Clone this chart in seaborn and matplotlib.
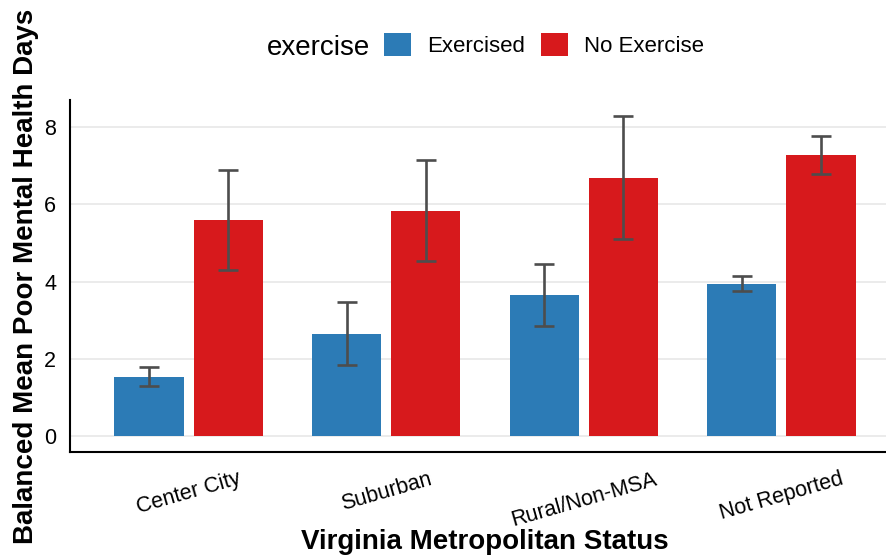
import matplotlib
matplotlib.use("Agg")
import matplotlib.pyplot as plt
from matplotlib.patches import Patch
import pandas as pd
import seaborn as sns

# Balanced (weighted) mean poor mental health days with 95% intervals
metro_status = ["Center City", "Suburban", "Rural/Non-MSA", "Not Reported"]
exercise_levels = ["Exercised", "No Exercise"]

exercised_mean = [1.54, 2.64, 3.66, 3.94]
exercised_lower = [1.30, 1.84, 2.85, 3.75]
exercised_upper = [1.80, 3.46, 4.46, 4.15]

no_exercise_mean = [5.59, 5.84, 6.69, 7.27]
no_exercise_lower = [4.29, 4.54, 5.11, 6.78]
no_exercise_upper = [6.90, 7.16, 8.29, 7.78]

palette = {"Exercised": "#2C7BB6", "No Exercise": "#D7191C"}

df = pd.DataFrame({
    "metro": metro_status * 2,
    "exercise": ["Exercised"] * 4 + ["No Exercise"] * 4,
    "mean": exercised_mean + no_exercise_mean,
    "lower": exercised_lower + no_exercise_lower,
    "upper": exercised_upper + no_exercise_upper,
})

sns.set_style("white")
plt.rcParams["font.family"] = ["Liberation Sans", "DejaVu Sans"]
plt.rcParams["text.color"] = "black"
plt.rcParams["axes.labelcolor"] = "black"
plt.rcParams["xtick.color"] = "black"
plt.rcParams["ytick.color"] = "black"

W, H = 887, 559
fig = plt.figure(figsize=(W / 100, H / 100), dpi=100)
ax = fig.add_axes([70 / W, (H - 452) / H, (900 - 70) / W, (452 - 100) / H])

sns.barplot(data=df, x="metro", y="mean", hue="exercise",
            order=metro_status, hue_order=exercise_levels,
            palette=palette, errorbar=None, width=0.8, gap=0.125,
            linewidth=0, saturation=1, legend=False, ax=ax, zorder=2)

# interval whiskers at each bar centre
for container, level in zip(ax.containers, exercise_levels):
    sub = df[df["exercise"] == level].set_index("metro").loc[metro_status]
    for bar, (_, row) in zip(container, sub.iterrows()):
        xc = bar.get_x() + bar.get_width() / 2
        ax.errorbar(xc, row["mean"],
                    yerr=[[row["mean"] - row["lower"]], [row["upper"] - row["mean"]]],
                    fmt="none", ecolor="#4D4D4D", elinewidth=1.9,
                    capsize=7.2, capthick=1.9, zorder=3)

ax.set_xlim(-0.6, 3.6)
ymax = max(exercised_upper + no_exercise_upper)
pad = 0.05 * ymax
ax.set_ylim(-pad, ymax + pad)
ax.set_yticks([0, 2, 4, 6, 8])

ax.yaxis.grid(True, color="#EBEBEB", linewidth=1.4)
ax.xaxis.grid(False)
ax.set_axisbelow(True)

for side in ["top", "right"]:
    ax.spines[side].set_visible(False)
for side in ["left", "bottom"]:
    ax.spines[side].set_linewidth(1.5)
    ax.spines[side].set_color("black")

ax.tick_params(axis="both", direction="out", length=5, width=1.4,
               color="black", labelcolor="black", labelsize=15.5)
ax.tick_params(axis="y", pad=5)
ax.tick_params(axis="x", pad=7)
for lab in ax.get_xticklabels():
    lab.set_rotation(16)
    lab.set_ha("center")
    lab.set_va("top")

ax.set_xlabel("Virginia Metropolitan Status", fontsize=20, fontweight="bold")
ax.set_ylabel("Balanced Mean Poor Mental Health Days", fontsize=20, fontweight="bold")
ax.xaxis.set_label_coords(0.5, -0.219)
ax.yaxis.set_label_coords(-0.0373, 0.5)

# legend across the top with its title on the left
fig.text(267 / W, 1 - 55 / H, "exercise", fontsize=20, ha="left", va="baseline")
handles = [Patch(facecolor=palette[k], edgecolor="none") for k in exercise_levels]
fig.legend(handles, exercise_levels, loc="center",
           bbox_to_anchor=(544 / W, 1 - 45 / H), ncol=2, frameon=False,
           fontsize=16, handlelength=1.22, handleheight=1.17,
           handletextpad=0.72, columnspacing=0.72, borderpad=0, borderaxespad=0)

fig.savefig("out.png", dpi=100)
